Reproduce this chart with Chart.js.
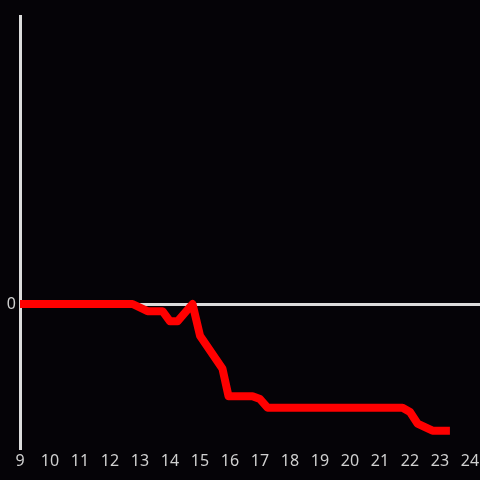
<!DOCTYPE html>
<html>
<head>
<meta charset="utf-8">
<script src="https://cdn.jsdelivr.net/npm/chart.js@4"></script>
<style>
  html, body { margin: 0; padding: 0; background: #050307; }
  canvas { display: block; }
</style>
</head>
<body>
<canvas id="chart" width="480" height="480"></canvas>
<script>
// hours of day (fractional) and values
const hours = [9, 12.75, 13.25, 13.75, 14.0, 14.25, 14.75, 15.0, 15.75, 15.95, 16.75, 17.0, 17.25, 21.75, 22.0, 22.25, 22.75, 23.33];
const values = [0, 0, -0.05, -0.05, -0.12, -0.12, 0, -0.22, -0.45, -0.64, -0.64, -0.66, -0.72, -0.72, -0.75, -0.83, -0.88, -0.88];
const xTicks = [9, 10, 11, 12, 13, 14, 15, 16, 17, 18, 19, 20, 21, 22, 23, 24];

const axisColor = '#dcdcdc';
const textColor = '#d0d0d0';
const tickFont = { size: 16, family: 'Noto Sans' };

const points = hours.map((h, i) => ({ x: h, y: values[i] }));

const ctx = document.getElementById('chart').getContext('2d');

new Chart(ctx, {
    type: 'line',
    data: {
        datasets: [{
            data: points,
            borderColor: '#ff0000',
            borderWidth: 8,
            borderJoinStyle: 'round',
            borderCapStyle: 'butt',
            pointRadius: 0,
            tension: 0
        }]
    },
    options: {
        responsive: false,
        animation: false,
        layout: { padding: { top: 16, right: 0, left: 0, bottom: 0 } },
        plugins: {
            legend: { display: false },
            tooltip: { enabled: false }
        },
        scales: {
            x: {
                type: 'linear',
                min: 9,
                max: 24.333,
                afterBuildTicks: (axis) => { axis.ticks = xTicks.map(v => ({ value: v })); },
                afterFit: (axis) => {
                    axis.height = 32;
                    axis.paddingLeft = 0;
                    axis.paddingRight = 0;
                },
                border: { display: false },
                grid: { display: false, drawTicks: false },
                ticks: {
                    color: textColor,
                    font: tickFont,
                    padding: 4,
                    maxRotation: 0,
                    autoSkip: false
                }
            },
            y: {
                min: -1,
                max: 2,
                afterBuildTicks: (axis) => { axis.ticks = [{ value: 0 }]; },
                afterFit: (axis) => {
                    axis.width = 20;
                    axis.paddingTop = 0;
                    axis.paddingBottom = 0;
                },
                border: { display: true, color: axisColor, width: 3 },
                grid: {
                    drawTicks: false,
                    color: (c) => c.tick && c.tick.value === 0 ? axisColor : 'transparent',
                    lineWidth: 3
                },
                ticks: {
                    color: textColor,
                    font: tickFont,
                    padding: 4,
                    callback: (v) => v === 0 ? '0' : ''
                }
            }
        }
    }
});
</script>
</body>
</html>
